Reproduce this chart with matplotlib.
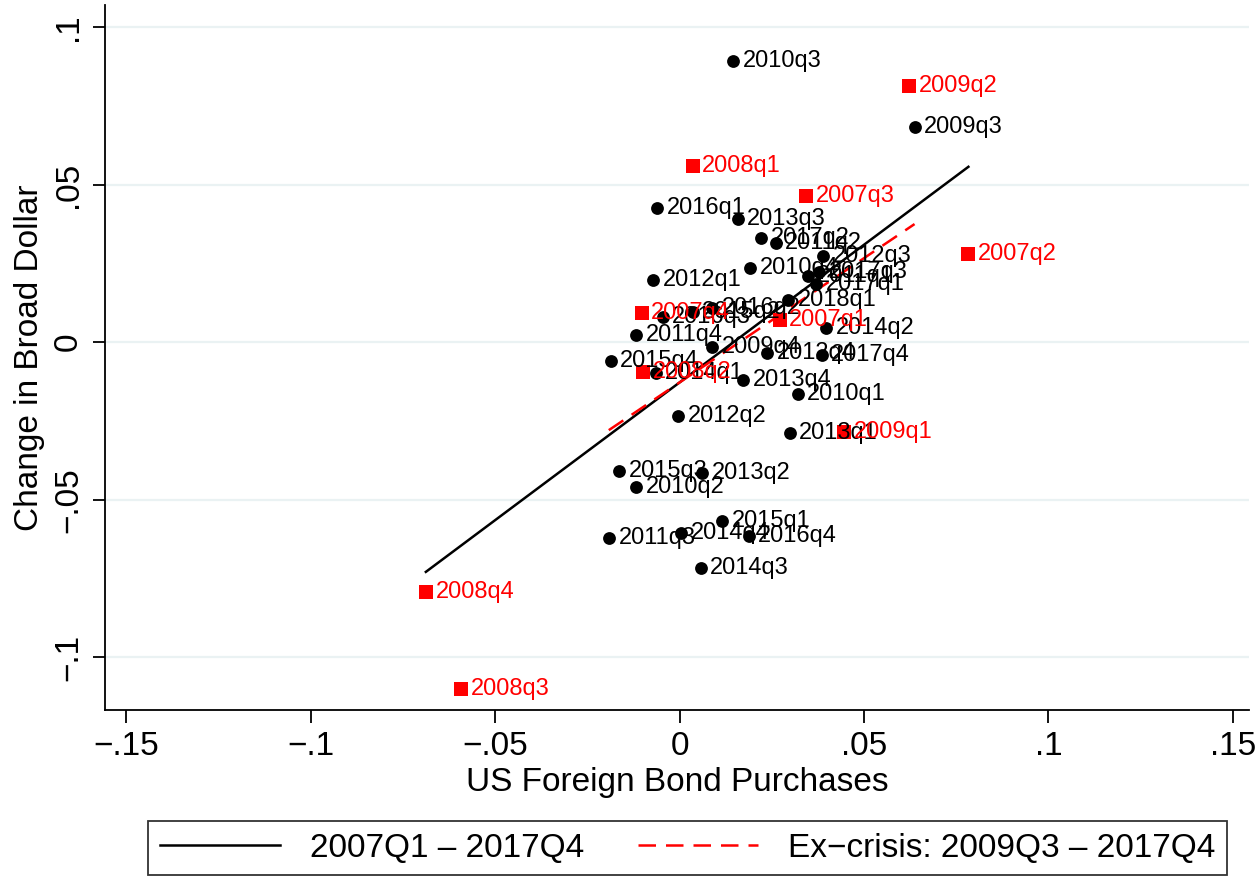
import numpy as np
import matplotlib
matplotlib.use("Agg")
import matplotlib.pyplot as plt
from matplotlib.lines import Line2D

plt.rcParams['font.family'] = ['Liberation Sans Narrow', 'Liberation Sans', 'DejaVu Sans']

# crisis quarters (red squares)
crisis_q = ['2007q1', '2007q2', '2007q3', '2007q4', '2008q1',
            '2008q2', '2008q3', '2008q4', '2009q1', '2009q2']
crisis_x = [0.0271, 0.0783, 0.0344, -0.0103, 0.0035,
            -0.0100, -0.0593, -0.0688, 0.0447, 0.0621]
crisis_y = [0.0070, 0.0279, 0.0463, 0.0092, 0.0559,
            -0.0095, -0.1102, -0.0794, -0.0286, 0.0813]

# post-crisis quarters (black dots)
post_q = ['2009q3', '2009q4',
          '2010q1', '2010q2', '2010q3', '2010q4',
          '2011q1', '2011q2', '2011q3', '2011q4',
          '2012q1', '2012q2', '2012q3', '2012q4',
          '2013q1', '2013q2', '2013q3', '2013q4',
          '2014q1', '2014q2', '2014q3', '2014q4',
          '2015q1', '2015q2', '2015q3', '2015q4',
          '2016q1', '2016q2', '2016q3', '2016q4',
          '2017q1', '2017q2', '2017q3', '2017q4',
          '2018q1']
post_x = [0.0637, 0.0089,
          0.0320, -0.0117, 0.0146, 0.0192,
          0.0347, 0.0260, -0.0192, -0.0117,
          -0.0073, -0.0003, 0.0388, 0.0238,
          0.0298, 0.0062, 0.0157, 0.0173,
          -0.0065, 0.0398, 0.0057, 0.0005,
          0.0114, 0.0035, -0.0165, -0.0187,
          -0.0060, 0.0089, -0.0046, 0.0187,
          0.0371, 0.0222, 0.0379, 0.0385,
          0.0293]
post_y = [0.0683, -0.0016,
          -0.0165, -0.0460, 0.0892, 0.0235,
          0.0210, 0.0314, -0.0622, 0.0022,
          0.0197, -0.0235, 0.0273, -0.0035,
          -0.0289, -0.0416, 0.0390, -0.0121,
          -0.0098, 0.0044, -0.0717, -0.0606,
          -0.0568, 0.0095, -0.0410, -0.0060,
          0.0425, 0.0108, 0.0079, -0.0616,
          0.0184, 0.0330, 0.0222, -0.0041,
          0.0133]

xticks = [-0.15, -0.1, -0.05, 0, 0.05, 0.1, 0.15]
yticks = [-0.1, -0.05, 0, 0.05, 0.1]


def stata_fmt(v):
    if v == 0:
        return '0'
    s = ('%g' % abs(v)).lstrip('0')
    return ('\u2212' if v < 0 else '') + s


fig = plt.figure(figsize=(12.57, 8.77), dpi=100)
ax = fig.add_axes([0.0835, 0.1904, 0.9105, 0.8036])

ax.set_xlim(-0.1558, 0.1545)
ax.set_ylim(-0.1168, 0.107)

for yv in yticks:
    ax.axhline(yv, color='#eaf2f3', lw=1.6, zorder=0)

# fitted lines: full sample and ex-crisis (both through 2017q4)
all_x = np.array(crisis_x + post_x[:-1])
all_y = np.array(crisis_y + post_y[:-1])
ex_x = np.array(post_x[:-1])
ex_y = np.array(post_y[:-1])

b_all = np.polyfit(all_x, all_y, 1)
xs = np.array([all_x.min(), all_x.max()])
ax.plot(xs, np.polyval(b_all, xs), color='black', lw=1.8, zorder=2)

b_ex = np.polyfit(ex_x, ex_y, 1)
xs = np.array([ex_x.min(), ex_x.max()])
ax.plot(xs, np.polyval(b_ex, xs), color='red', lw=1.8,
        dashes=(7, 4), zorder=2)

ax.scatter(post_x, post_y, s=85, marker='o', color='black', zorder=3,
           linewidths=0)
ax.scatter(crisis_x, crisis_y, s=100, marker='s', color='red', zorder=3,
           linewidths=0)

for q, x, y in zip(post_q, post_x, post_y):
    ax.annotate(q, (x, y), xytext=(7, 0), textcoords='offset points',
                ha='left', va='center', fontsize=17, color='black', zorder=4)
for q, x, y in zip(crisis_q, crisis_x, crisis_y):
    ax.annotate(q, (x, y), xytext=(7, 0), textcoords='offset points',
                ha='left', va='center', fontsize=17, color='red', zorder=4)

ax.set_xticks(xticks)
ax.set_xticklabels([stata_fmt(v) for v in xticks], fontsize=24)
ax.set_yticks(yticks)
ax.set_yticklabels([stata_fmt(v) for v in yticks], fontsize=24,
                   rotation=90, va='center')

ax.tick_params(axis='both', direction='out', length=9, width=1.3,
               color='black')
ax.tick_params(axis='x', pad=6)
ax.tick_params(axis='y', pad=6)

ax.spines['top'].set_visible(False)
ax.spines['right'].set_visible(False)
ax.spines['left'].set_linewidth(1.3)
ax.spines['bottom'].set_linewidth(1.3)

ax.set_xlabel('US Foreign Bond Purchases', fontsize=24, labelpad=4)
ax.set_ylabel('Change in Broad Dollar', fontsize=24, labelpad=6)

handles = [
    Line2D([], [], color='black', lw=1.8),
    Line2D([], [], color='red', lw=1.8, dashes=(7, 4)),
]
labels = ['2007Q1 \u2013 2017Q4', 'Ex\u2212crisis: 2009Q3 \u2013 2017Q4']
leg = fig.legend(handles, labels, loc='lower center',
                 bbox_to_anchor=(0.547, 0.002), ncol=2, fontsize=24,
                 frameon=True, fancybox=False, edgecolor='black',
                 handlelength=3.6, columnspacing=1.6, borderpad=0.35,
                 handletextpad=0.9, borderaxespad=0)
leg.get_frame().set_linewidth(1.3)

fig.savefig('out.png', dpi=100, facecolor='white')
